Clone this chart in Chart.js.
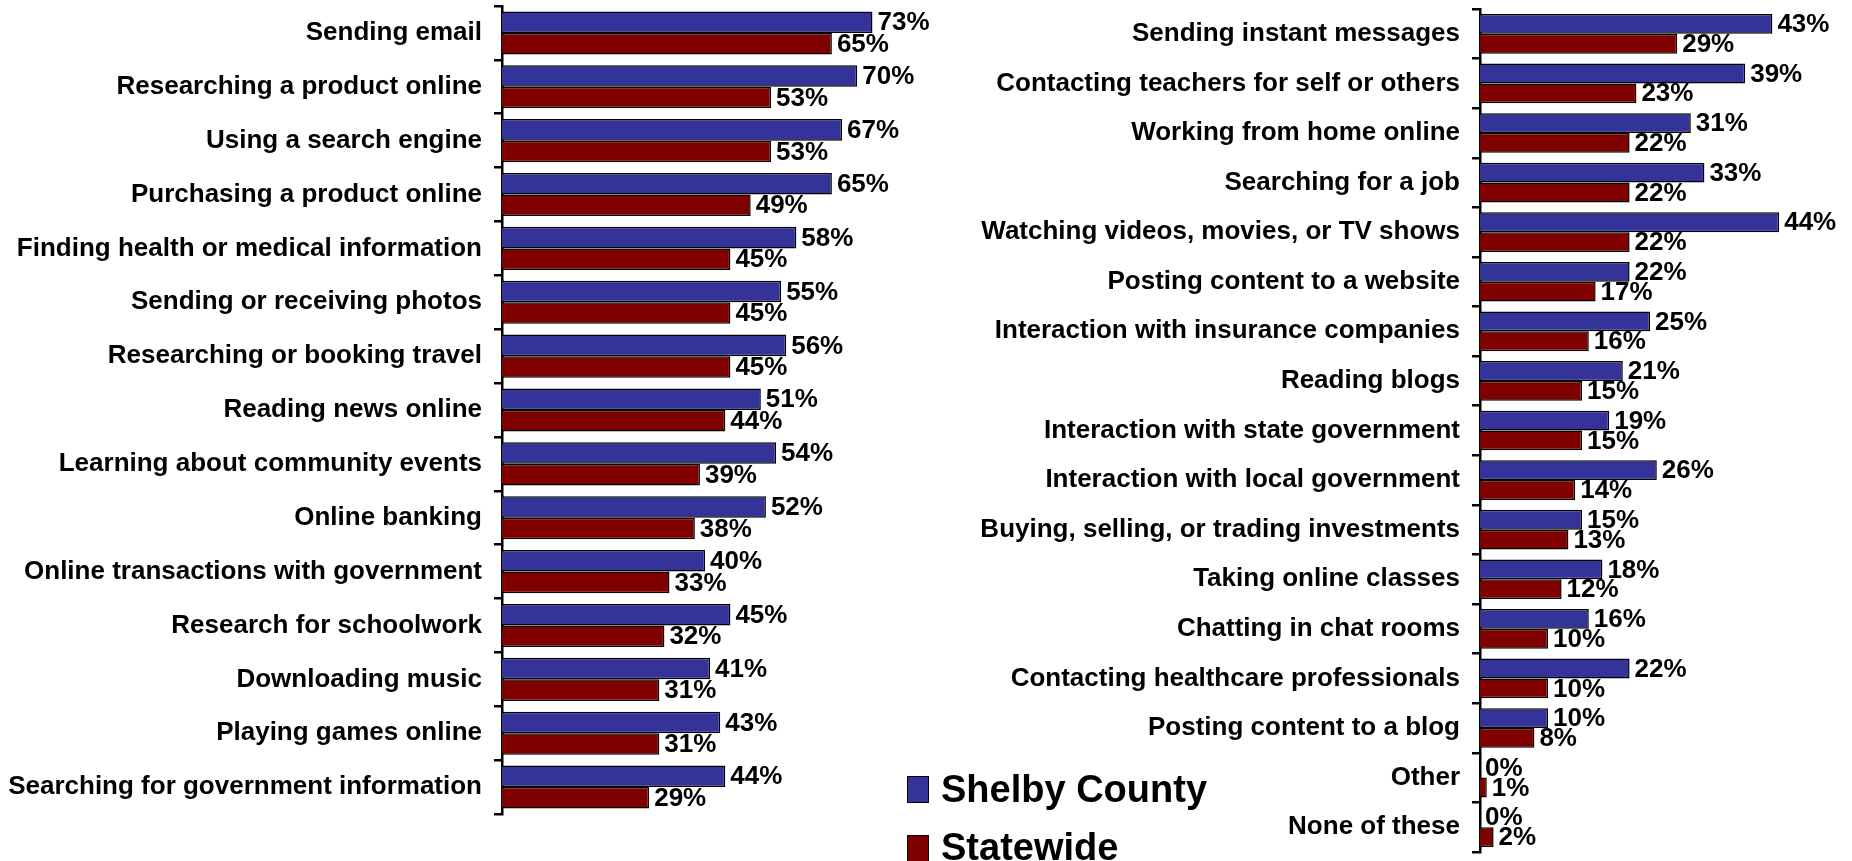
<!DOCTYPE html>
<html>
<head>
<meta charset="utf-8">
<script src="https://cdn.jsdelivr.net/npm/chart.js@4"></script>
<style>
  html, body { margin: 0; padding: 0; background: #fff; }
  #wrap { position: relative; width: 1852px; height: 861px; overflow: hidden; font-family: "Liberation Sans", Arial, sans-serif; }
  canvas { position: absolute; top: 0; }
  #chart--left { left: 0; }
  #chart--right { left: 950px; }
  .legend-item { position: absolute; left: 907px; font-weight: bold; font-size: 38px; color: #000; line-height: 38px; white-space: nowrap; }
  .legend-box { position: absolute; left: 0; width: 20px; height: 25px; border: 1px solid #000; }
  .legend-text { position: absolute; left: 34px; }
</style>
</head>
<body>
<div id="wrap">
  <canvas id="chart--left" width="950" height="861"></canvas>
  <canvas id="chart--right" width="902" height="861"></canvas>
  <div class="legend-item" style="top:776px">
    <span class="legend-box" style="background:#333399;top:0"></span>
    <span class="legend-text" style="top:-6px">Shelby County</span>
  </div>
  <div class="legend-item" style="top:835px">
    <span class="legend-box" style="background:#800000;top:0"></span>
    <span class="legend-text" style="top:-7px">Statewide</span>
  </div>
</div>
<script>
"use strict";
(() => {
    const seriesNames = ['Shelby County', 'Statewide'];
    const seriesColors = ['#333399', '#800000'];

    const leftCategories = [
        'Sending email',
        'Researching a product online',
        'Using a search engine',
        'Purchasing a product online',
        'Finding health or medical information',
        'Sending or receiving photos',
        'Researching or booking travel',
        'Reading news online',
        'Learning about community events',
        'Online banking',
        'Online transactions with government',
        'Research for schoolwork',
        'Downloading music',
        'Playing games online',
        'Searching for government information'
    ];
    const leftShelby = [73, 70, 67, 65, 58, 55, 56, 51, 54, 52, 40, 45, 41, 43, 44];
    const leftStatewide = [65, 53, 53, 49, 45, 45, 45, 44, 39, 38, 33, 32, 31, 31, 29];

    const rightCategories = [
        'Sending instant messages',
        'Contacting teachers for self or others',
        'Working from home online',
        'Searching for a job',
        'Watching videos, movies, or TV shows',
        'Posting content to a website',
        'Interaction with insurance companies',
        'Reading blogs',
        'Interaction with state government',
        'Interaction with local government',
        'Buying, selling, or trading investments',
        'Taking online classes',
        'Chatting in chat rooms',
        'Contacting healthcare professionals',
        'Posting content to a blog',
        'Other',
        'None of these'
    ];
    const rightShelby = [43, 39, 31, 33, 44, 22, 25, 21, 19, 26, 15, 18, 16, 22, 10, 0, 0];
    const rightStatewide = [29, 23, 22, 22, 22, 17, 16, 15, 15, 14, 13, 12, 10, 10, 8, 1, 2];

    const fontFamily = '"Liberation Sans", Arial, sans-serif';

    // percent labels at the end of each bar
    const valueLabelPlugin = {
        id: 'valueLabels',
        afterDatasetsDraw(chart) {
            const ctx = chart.ctx;
            ctx.save();
            ctx.font = `bold 26px ${fontFamily}`;
            ctx.fillStyle = '#000';
            ctx.textAlign = 'left';
            ctx.textBaseline = 'middle';
            chart.data.datasets.forEach((dataset, datasetIndex) => {
                const meta = chart.getDatasetMeta(datasetIndex);
                meta.data.forEach((bar, index) => {
                    ctx.fillText(`${dataset.data[index]}%`, bar.x + 5, bar.y + 1);
                });
            });
            ctx.restore();
        }
    };

    function buildChart(canvasId, categories, shelbyValues, statewideValues, axisWidth, xMax, padding) {
        return new Chart(document.getElementById(canvasId), {
            type: 'bar',
            data: {
                labels: categories,
                datasets: [
                    {
                        label: seriesNames[0],
                        data: shelbyValues,
                        backgroundColor: seriesColors[0],
                        borderColor: '#000',
                        borderWidth: 1.5
                    },
                    {
                        label: seriesNames[1],
                        data: statewideValues,
                        backgroundColor: seriesColors[1],
                        borderColor: '#000',
                        borderWidth: 1.5
                    }
                ]
            },
            options: {
                indexAxis: 'y',
                responsive: false,
                animation: false,
                devicePixelRatio: 1,
                layout: { padding },
                datasets: {
                    bar: { categoryPercentage: 0.8, barPercentage: 1 }
                },
                plugins: {
                    legend: { display: false },
                    tooltip: { enabled: false }
                },
                scales: {
                    x: {
                        display: false,
                        min: 0,
                        max: xMax
                    },
                    y: {
                        afterFit: (scale) => {
                            scale.width = axisWidth;
                            scale.paddingTop = 0;
                            scale.paddingBottom = 0;
                        },
                        border: { display: true, color: '#000', width: 2.5 },
                        grid: {
                            offset: true,
                            drawOnChartArea: false,
                            drawTicks: true,
                            tickLength: 8,
                            color: '#000',
                            lineWidth: 2.5
                        },
                        ticks: {
                            color: '#000',
                            padding: 12,
                            autoSkip: false,
                            font: { family: fontFamily, size: 26, weight: 'bold' }
                        }
                    }
                }
            },
            plugins: [valueLabelPlugin]
        });
    }

    buildChart('chart--left', leftCategories, leftShelby, leftStatewide, 502, 80,
        { top: 6, bottom: 47, left: 0, right: 42 });
    buildChart('chart--right', rightCategories, rightShelby, rightStatewide, 530, 50,
        { top: 9, bottom: 9, left: 0, right: 32 });
})();
</script>
</body>
</html>
